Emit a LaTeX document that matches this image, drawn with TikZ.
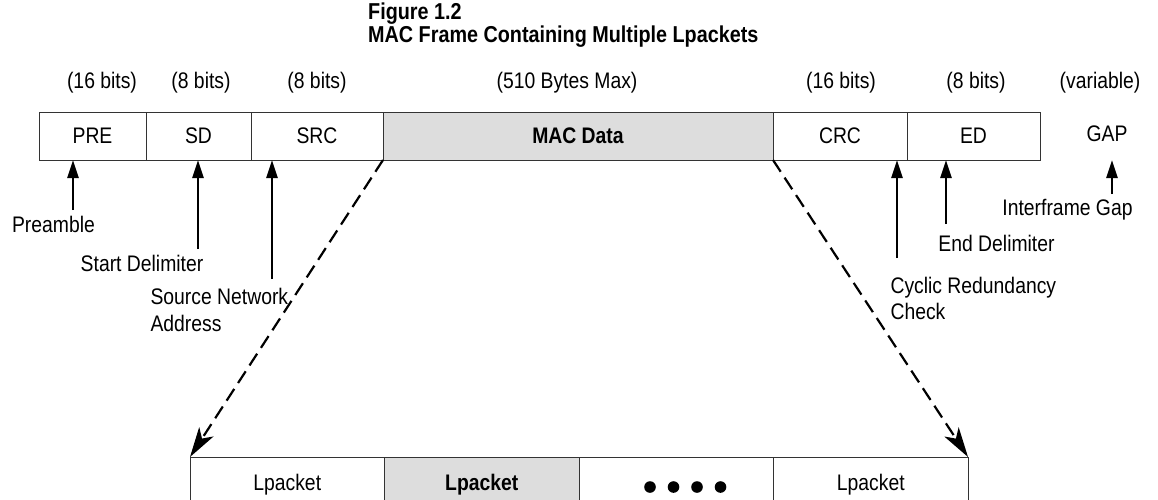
\documentclass[tikz,border=0pt]{standalone}
\usepackage{fontspec}
\setmainfont{Liberation Sans}[FakeStretch=0.86]
\usepackage{tikz}
\usetikzlibrary{
  arrows.meta,
  positioning
}
\definecolor{datagray}{RGB}{221,221,221}

\begin{document}
\begin{tikzpicture}[x=1pt, y=-1pt, font=\fontsize{22.5}{26.5}\selectfont]
\useasboundingbox (0,0) rectangle (1158,499);

% -------------------------
% Title
% -------------------------
\node[anchor=north west, align=left, inner sep=0pt,
  font=\fontsize{23}{18}\selectfont\bfseries] (title) at (368, 3)
  {Figure 1.2\\MAC Frame Containing Multiple Lpackets};

% -------------------------
% Field sizes
% -------------------------
\node (szpre) at (102, 83)  {(16 bits)};
\node (szsd)  at (201, 83)  {(8 bits)};
\node (szsrc) at (317, 83)  {(8 bits)};
\node (szmac) at (567, 83)  {(510 Bytes Max)};
\node (szcrc) at (841, 83)  {(16 bits)};
\node (szed)  at (976, 83)  {(8 bits)};
\node (szgap) at (1100, 83) {(variable)};

% -------------------------
% MAC frame
% -------------------------
\begin{scope}[
  every node/.style={draw=black!80, line width=0.9pt, inner sep=0pt,
    outer sep=0pt, minimum height=48pt}
]
\node[minimum width=107pt] (pre) at (92.5, 136)  {PRE};
\node[minimum width=105pt] (sd)  at (198.5, 136) {SD};
\node[minimum width=132pt] (src) at (317, 136)   {SRC};
\node[minimum width=390pt, fill=datagray, font=\fontsize{22.5}{26.5}\selectfont\bfseries]
  (mac) at (578, 136) {MAC Data};
\node[minimum width=134pt] (crc) at (840, 136)   {CRC};
\node[minimum width=133pt] (ed)  at (973.5, 136) {ED};
\end{scope}

\node (gap) at (1107, 134) {GAP};

% -------------------------
% Lpackets
% -------------------------
\begin{scope}[
  every node/.style={draw=black!80, line width=0.9pt, inner sep=0pt,
    outer sep=0pt, minimum height=55pt, minimum width=194.5pt}
]
\node (lp1) at (287.25, 484.5) {Lpacket};
\node[fill=datagray, font=\fontsize{22.5}{26.5}\selectfont\bfseries]
  (lp2) at (481.75, 484.5) {Lpacket};
\node (lp3) at (676.25, 484.5) {};
\node (lp4) at (870.75, 484.5) {Lpacket};
\end{scope}

\foreach \x in {650, 673.5, 697, 720.5}
  \fill (\x, 487) circle (5.8pt);

% -------------------------
% Field names
% -------------------------
\node (preamble) at (53.5, 224)  {Preamble};
\node (startdel) at (142, 263)   {Start Delimiter};
\node[anchor=west, align=left] (srcaddr) at (147, 310) {Source Network\\Address};
\node[anchor=west, align=left] (crccheck) at (887, 298.5) {Cyclic Redundancy\\Check};
\node (enddel)   at (996.5, 243) {End Delimiter};
\node (ifgap)    at (1067.5, 210) {Interframe Gap};

\coordinate (preTail) at (73, 210);
\coordinate (sdTail)  at (198, 249);
\coordinate (srcTail) at (272, 279);
\coordinate (crcTail) at (897, 258);
\coordinate (edTail)  at (946, 224);
\coordinate (gapTail) at (1112, 194);
\coordinate (gapTip)  at (1112, 160);

% -------------------------
% Edges
% -------------------------
\begin{scope}[line width=2.6pt, >={Triangle[length=18pt, width=11pt]}]
\draw[->] (preTail) -- (preTail |- pre.south);
\draw[->] (sdTail)  -- (sdTail |- sd.south);
\draw[->] (srcTail) -- (srcTail |- src.south);
\draw[->] (crcTail) -- (crcTail |- crc.south);
\draw[->] (edTail)  -- (edTail |- ed.south);
\draw[->] (gapTail) -- (gapTip);
\end{scope}

\begin{scope}[line width=2.2pt, dash pattern=on 14pt off 7pt,
  >={Stealth[length=30pt, width=17pt, inset=8pt]}]
\draw[->] (mac.south west) -- (lp1.north west);
\draw[->] (mac.south east) -- (lp4.north east);
\end{scope}

\end{tikzpicture}
\end{document}
